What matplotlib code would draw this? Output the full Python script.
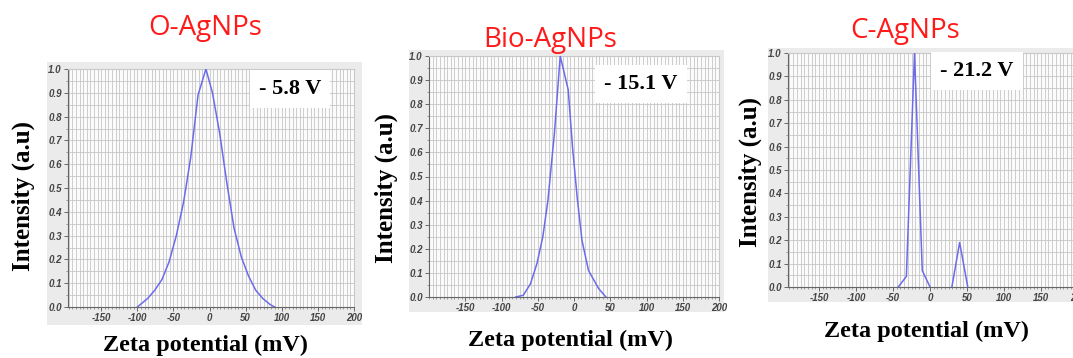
import matplotlib
matplotlib.use("Agg")
import matplotlib.pyplot as plt
from matplotlib.patches import Rectangle
from matplotlib.ticker import MultipleLocator, FixedLocator

W, H = 1073, 358

# ---- data ----
titles = ["O-AgNPs", "Bio-AgNPs", "C-AgNPs"]
zeta_labels = ["- 5.8 V", "- 15.1 V", "- 21.2 V"]

o_x = [-100, -96, -86, -76, -66, -56, -46, -36, -26, -16, -5, 4, 14, 24, 34, 44, 54, 64, 74, 84, 90]
o_y = [0.0, 0.01, 0.035, 0.07, 0.115, 0.19, 0.30, 0.44, 0.63, 0.89, 1.0, 0.9, 0.73, 0.52, 0.33, 0.21, 0.13, 0.07, 0.035, 0.01, 0.0]

bio_x = [-80.5, -70, -60, -51, -43, -36, -27, -19, -8, -2, 4.5, 11, 20, 34, 44]
bio_y = [0.0, 0.007, 0.055, 0.14, 0.25, 0.40, 0.68, 1.0, 0.86, 0.62, 0.41, 0.235, 0.11, 0.035, 0.0]

c_x1 = [-43, -32, -21, -10.5, 0]
c_y1 = [0.0, 0.045, 1.0, 0.07, 0.0]
c_x2 = [29.5, 40, 51]
c_y2 = [0.0, 0.19, 0.0]

xtick_vals = [-150, -100, -50, 0, 50, 100, 150, 200]
ytick_vals = [0.0, 0.1, 0.2, 0.3, 0.4, 0.5, 0.6, 0.7, 0.8, 0.9, 1.0]

# ---- layout (pixels) ----
axes_px = [(68, 354, 69, 307, (-196, 200)),
           (429, 719, 56, 297, (-200, 200)),
           (788, 1078, 53, 287, (-192, 200))]
bg_px = [(47, 362, 62, 325), (409, 724, 50, 312), (768, 1080, 48, 302)]
title_px = [(205, 28), (550, 40), (905, 31)]
xlab_px = [(205, 345), (571, 340), (926, 331)]
ylab_px = [(23, 196), (386, 188), (750, 172)]
box_px = [(290, 89), (641, 84), (977, 71)]

fig = plt.figure(figsize=(W / 100, H / 100), dpi=100)
fig.patch.set_facecolor("white")

def rect(l, r, t, b):
    return [l / W, 1 - b / H, (r - l) / W, (b - t) / H]

series = [[(o_x, o_y)], [(bio_x, bio_y)], [(c_x1, c_y1), (c_x2, c_y2)]]

for i in range(3):
    l, r, t, b, xl = axes_px[i]
    bl, br, bt, bb = bg_px[i]
    fig.patches.append(Rectangle((bl / W, 1 - bb / H), (br - bl) / W, (bb - bt) / H,
                                 transform=fig.transFigure, facecolor="#ebebeb",
                                 edgecolor="none", zorder=0))
    ax = fig.add_axes(rect(l, r, t, b))
    ax.set_zorder(2)
    ax.set_facecolor("#fbfbfb")
    for xs, ys in series[i]:
        ax.plot(xs, ys, color="#6b6bec", lw=1.1, zorder=3)
    ax.set_xlim(*xl)
    ax.set_ylim(0, 1.0)
    ax.xaxis.set_major_locator(FixedLocator(xtick_vals))
    ax.xaxis.set_minor_locator(MultipleLocator(5))
    ax.yaxis.set_major_locator(FixedLocator(ytick_vals))
    ax.yaxis.set_minor_locator(MultipleLocator(0.05))
    ax.set_xticklabels([str(v) for v in xtick_vals])
    ax.set_yticklabels([f"{v:.1f}" for v in ytick_vals])
    ax.grid(which="both", axis="both", color="#c6c6c6", lw=0.6)
    ax.set_axisbelow(True)
    ax.tick_params(which="major", length=3, width=0.7, color="#666666", pad=1.5,
                   labelsize=7, labelcolor="#444444")
    ax.tick_params(which="minor", length=1.5, width=0.5, color="#777777")
    for lab in ax.get_xticklabels() + ax.get_yticklabels():
        lab.set_fontstyle("italic")
        lab.set_fontweight("bold")
        lab.set_family("Liberation Sans")
    for s in ["left", "bottom"]:
        ax.spines[s].set_color("#666666")
        ax.spines[s].set_linewidth(0.8)
    for s in ["top", "right"]:
        ax.spines[s].set_color("#c8c8c8")
        ax.spines[s].set_linewidth(0.8)

    tx, ty = title_px[i]
    fig.text(tx / W, 1 - ty / H, titles[i], color="#ff1a1a", fontsize=20,
             family="Open Sans", ha="center", va="center")
    xx, xy = xlab_px[i]
    fig.text(xx / W, 1 - xy / H, "Zeta potential (mV)", fontsize=17.5, fontweight="bold",
             family="Liberation Serif", ha="center", va="center")
    yx, yy = ylab_px[i]
    fig.text(yx / W, 1 - yy / H, "Intensity (a.u)", fontsize=18, fontweight="bold",
             family="Liberation Serif", ha="center", va="center", rotation=90)
    bx, by = box_px[i]
    fig.text(bx / W, 1 - by / H, zeta_labels[i], fontsize=16, fontweight="bold",
             family="Liberation Serif", ha="center", va="center", zorder=5,
             bbox=dict(boxstyle="square,pad=0.4", facecolor="white", edgecolor="none"))

fig.savefig("out.png", dpi=100)
